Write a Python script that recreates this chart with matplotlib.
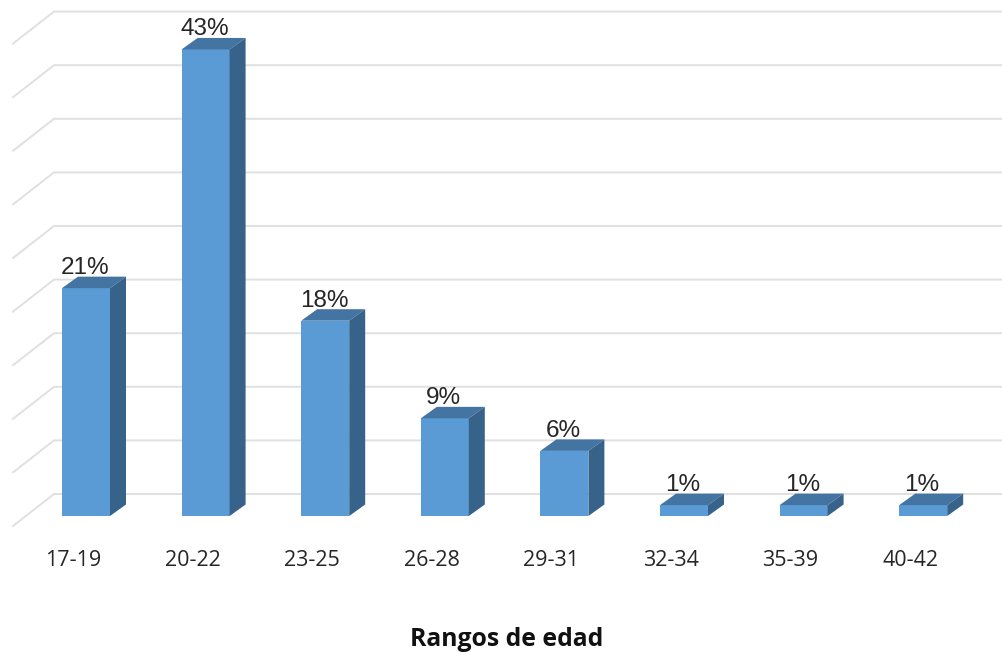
import matplotlib
matplotlib.use("Agg")
import matplotlib.pyplot as plt
from matplotlib.patches import Polygon

# Age ranges and their share of respondents (%)
categories = ["17-19", "20-22", "23-25", "26-28", "29-31", "32-34", "35-39", "40-42"]
shares = [21, 43, 18, 9, 6, 1, 1, 1]
wall_ticks = [0, 5, 10, 15, 20, 25, 30, 35, 40, 45]
axis_title = "Rangos de edad"

W, H = 1003, 652
SLOT_PX = 119.6        # distance between neighbouring bars
UNIT_PX = 10.85        # pixels per percentage point
FIRST_CENTER_PX = 86   # centre of the first bar's front face
BASE_PX = 516          # baseline of the front faces
BAR_W = 48 / SLOT_PX
DX = 16 / SLOT_PX      # oblique depth offset of the bars
DY = 11.5 / UNIT_PX

FRONT = "#5B9BD5"
TOP = "#4374A2"
SIDE = "#376289"
GRID = "#E0E0E0"
TEXT = "#262626"

fig = plt.figure(figsize=(W / 100, H / 100), dpi=100)
ax = fig.add_axes([0, 0, 1, 1])
ax.set_xlim(-FIRST_CENTER_PX / SLOT_PX, (W - FIRST_CENTER_PX) / SLOT_PX)
ax.set_ylim((BASE_PX - H) / UNIT_PX, BASE_PX / UNIT_PX)
ax.axis("off")

# Back wall and side wall gridlines
WALL_UNIT_PX = 10.72
for t in wall_ticks:
    y_back = (22 + t * WALL_UNIT_PX) / UNIT_PX
    y_front = y_back - 32 / UNIT_PX
    x_front = (13 - FIRST_CENTER_PX) / SLOT_PX
    x_back = (54 - FIRST_CENTER_PX) / SLOT_PX
    ax.plot([x_front, x_back, ax.get_xlim()[1]], [y_front, y_back, y_back],
            color=GRID, lw=1.4, solid_joinstyle="miter", zorder=1)

# Oblique bars: front, top and side faces
for i, v in enumerate(shares):
    l, r = i - BAR_W / 2, i + BAR_W / 2
    ax.add_patch(Polygon([(l, 0), (r, 0), (r, v), (l, v)], fc=FRONT, ec="none", zorder=3))
    ax.add_patch(Polygon([(l, v), (r, v), (r + DX, v + DY), (l + DX, v + DY)],
                         fc=TOP, ec="none", zorder=3))
    ax.add_patch(Polygon([(r, 0), (r + DX, DY), (r + DX, v + DY), (r, v)],
                         fc=SIDE, ec="none", zorder=3))
    ax.text(i - 0.01, v + 14 / UNIT_PX, f"{v}%", ha="center", va="baseline",
            family="Liberation Sans", fontsize=17.5, color=TEXT, zorder=4)
    # Category labels sit slightly left of their bars
    ax.text(i - 13 / SLOT_PX, (BASE_PX - 566) / UNIT_PX, categories[i], ha="center", va="baseline",
            family="Open Sans", fontsize=15.5, color=TEXT, zorder=4)

ax.text((507 - FIRST_CENTER_PX) / SLOT_PX, (BASE_PX - 646) / UNIT_PX, axis_title,
        ha="center", va="baseline", family="Open Sans", fontweight="bold",
        fontsize=17.8, color="#111111")

fig.savefig("out.png", dpi=100, facecolor="white")
